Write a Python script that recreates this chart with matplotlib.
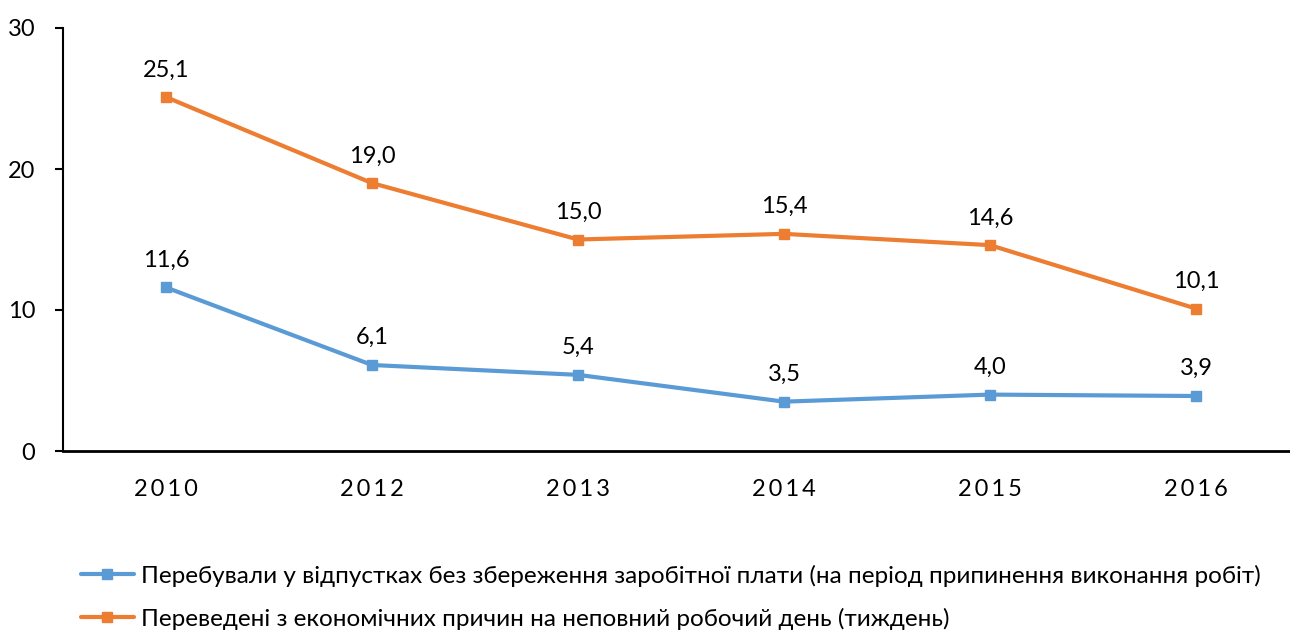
import matplotlib
matplotlib.use("Agg")
import matplotlib.pyplot as plt

years = ["2010", "2012", "2013", "2014", "2015", "2016"]
unpaid_leave = [11.6, 6.1, 5.4, 3.5, 4.0, 3.9]
part_time = [25.1, 19.0, 15.0, 15.4, 14.6, 10.1]
label_unpaid = "Перебували у відпустках без збереження заробітної плати (на період припинення виконання робіт)"
label_part = "Переведені з економічних причин на неповний робочий день (тиждень)"
yticks = [0, 10, 20, 30]

plt.rcParams['font.family'] = ['Lato', 'DejaVu Sans']

W, H = 1290, 630
fig = plt.figure(figsize=(W / 100, H / 100), dpi=100)
ax = fig.add_axes([63 / W, (H - 451) / H, 1236 / W, 423 / H])

x = list(range(len(years)))
blue = "#5B9BD5"
orange = "#ED7D31"
ax.plot(x, unpaid_leave, color=blue, lw=3, marker="s", ms=7.5,
        solid_capstyle="round", label=label_unpaid)
ax.plot(x, part_time, color=orange, lw=3, marker="s", ms=7.5,
        solid_capstyle="round", label=label_part)

for xs, ys in ((x, unpaid_leave), (x, part_time)):
    for xi, yi in zip(xs, ys):
        ax.annotate(f"{yi:.1f}".replace(".", ","), (xi, yi), xytext=(0, 12),
                    textcoords="offset points", ha="center", va="bottom",
                    fontsize=17, color="black")

ax.set_xlim(-0.5, len(years) - 0.5)
ax.set_ylim(0, 30)
ax.set_yticks(yticks)
ax.set_yticklabels([str(t) for t in yticks], fontsize=17)
ax.set_xticks(x)
ax.set_xticklabels(["\u2009".join(y) for y in years], fontsize=17)
ax.tick_params(axis="x", length=0, pad=20)
ax.tick_params(axis="y", length=6, width=1.5, pad=14, direction="out")
for s in ("top", "right"):
    ax.spines[s].set_visible(False)
ax.spines["left"].set_linewidth(1.5)
ax.spines["bottom"].set_linewidth(2)

fig.legend(loc="upper left", bbox_to_anchor=(71 / W, 1 - 555 / H), frameon=False,
           fontsize=17.5, handlelength=2.2, handletextpad=0.3, labelspacing=0.85,
           borderaxespad=0)

fig.savefig("out.png", dpi=100)
